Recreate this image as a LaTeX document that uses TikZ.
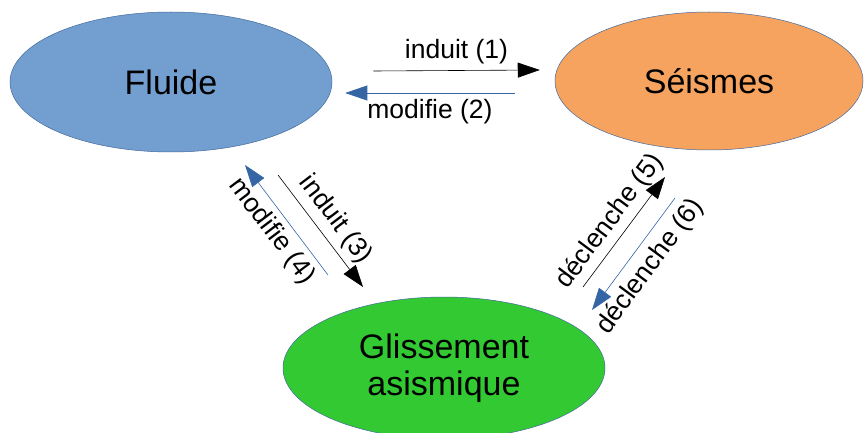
\documentclass[tikz,border=0pt]{standalone}
\usepackage{fontspec}
\setmainfont{Liberation Sans}
\usetikzlibrary{arrows.meta,shapes.geometric}

\definecolor{bleu}{HTML}{729FCF}
\definecolor{bleufonce}{HTML}{3465A4}
\definecolor{seisme}{HTML}{F5A35F}
\definecolor{vert}{HTML}{33C933}

\tikzset{
  bulle/.style={ellipse, inner sep=0pt, line width=0.5pt, draw=bleufonce!80!gray,
    align=center, font=\fontsize{34}{37}\selectfont},
  fleche/.style={line width=0.6pt, -{Triangle[length=22pt,width=15pt]}},
  lab/.style={font=\fontsize{26.5}{30}\selectfont, inner sep=3pt}
}

\begin{document}
\begin{tikzpicture}[x=1pt,y=-1pt]
\useasboundingbox (0,0) rectangle (864,433);

\node[bulle, fill=bleu, minimum width=322pt, minimum height=140pt] (F) at (171,82) {Fluide};
\node[bulle, fill=seisme, minimum width=308pt, minimum height=138pt] (S) at (709,81) {Séismes};
\node[bulle, fill=vert, minimum width=322pt, minimum height=142pt] (G) at (444,368) {Glissement\\asismique};

% fluide <-> seismes
\draw[fleche] ([shift={(41,-11)}]F.east) -- ([shift={(-15,-11)}]S.west)
  node[lab, midway, above=3pt] {induit (1)};
\draw[fleche, bleufonce] ([shift={(-40,12)}]S.west) -- ([shift={(13,11)}]F.east)
  node[lab, midway, below=3pt, text=black] {modifie (2)};

% fluide <-> glissement
\draw[fleche] ([shift={(107,93)}]F.center) -- ([shift={(-81,-81)}]G.center)
  node[lab, midway, sloped, above=3pt] {induit (3)};
\draw[fleche, bleufonce] ([shift={(-116,-93)}]G.center) -- ([shift={(74,83)}]F.center)
  node[lab, midway, sloped, below=3pt, text=black] {modifie (4)};

% glissement <-> seismes
\draw[fleche] ([shift={(139,-81)}]G.center) -- ([shift={(-44,96)}]S.center)
  node[lab, midway, sloped, above=2pt] {déclenche (5)};
\draw[fleche, bleufonce] ([shift={(-34,117)}]S.center) -- ([shift={(148,-58)}]G.center)
  node[lab, midway, sloped, below=5pt, text=black] {déclenche (6)};

\end{tikzpicture}
\end{document}
